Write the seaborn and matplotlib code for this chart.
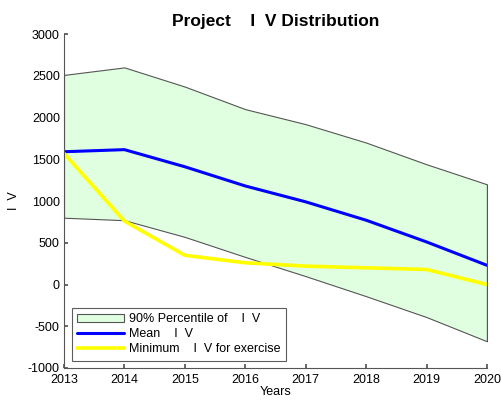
import matplotlib
matplotlib.use("Agg")
import matplotlib.pyplot as plt
import pandas as pd
import seaborn as sns

years = [2013, 2014, 2015, 2016, 2017, 2018, 2019, 2020]
upper_90 = [2510, 2600, 2370, 2100, 1920, 1700, 1440, 1200]
lower_90 = [800, 770, 570, 330, 100, -140, -390, -680]
mean_npv = [1590, 1615, 1410, 1180, 990, 770, 510, 230]
min_npv = [1570, 760, 350, 260, 220, 200, 180, 0]

sns.set_theme(style="white")
plt.rcParams["font.family"] = ["Liberation Sans", "DejaVu Sans"]
plt.rcParams["axes.unicode_minus"] = False
plt.rcParams["text.color"] = "black"
plt.rcParams["axes.labelcolor"] = "black"
plt.rcParams["xtick.color"] = "black"
plt.rcParams["ytick.color"] = "black"

df = pd.DataFrame({"year": years, "mean": mean_npv, "min": min_npv})

fig = plt.figure(figsize=(5.02, 4.0), dpi=100)
ax = fig.add_axes([0.1275, 0.08, 0.8425, 0.835])

ax.fill_between(years, lower_90, upper_90, facecolor="#e0ffe0",
                edgecolor="#555555", linewidth=0.8,
                label="90% Percentile of    I  V")
ax.plot([years[-1], years[-1]], [lower_90[-1], upper_90[-1]],
        color="#555555", linewidth=0.8)
sns.lineplot(data=df, x="year", y="mean", ax=ax, color="#0000ff",
             linewidth=2.2, label="Mean    I  V")
sns.lineplot(data=df, x="year", y="min", ax=ax, color="#ffff00",
             linewidth=2.6, label="Minimum    I  V for exercise")

ax.set_xlim(2013, 2020)
ax.set_ylim(-1000, 3000)
ax.set_xticks(years)
ax.set_yticks(range(-1000, 3001, 500))
ax.tick_params(direction="in", length=3, labelsize=9, color="#555555",
               bottom=True, left=True)
ax.tick_params(axis="x", pad=4)
ax.tick_params(axis="y", pad=3)
for s in ["top", "right"]:
    ax.spines[s].set_visible(False)
for s in ["left", "bottom"]:
    ax.spines[s].set_color("#555555")
    ax.spines[s].set_linewidth(0.8)

ax.set_xlabel("Years", fontsize=9, labelpad=0)
ax.set_ylabel("I  V", fontsize=9, labelpad=6)
ax.set_title("Project    I  V Distribution", fontsize=12.5, fontweight="bold", pad=6)

leg = ax.legend(loc="lower left", fontsize=9, frameon=True, fancybox=False,
                borderaxespad=0.6, handlelength=3.8, handletextpad=0.4,
                labelspacing=0.25, borderpad=0.4)
leg.get_frame().set_edgecolor("#333333")
leg.get_frame().set_linewidth(0.8)

fig.savefig("out.png", dpi=100)
